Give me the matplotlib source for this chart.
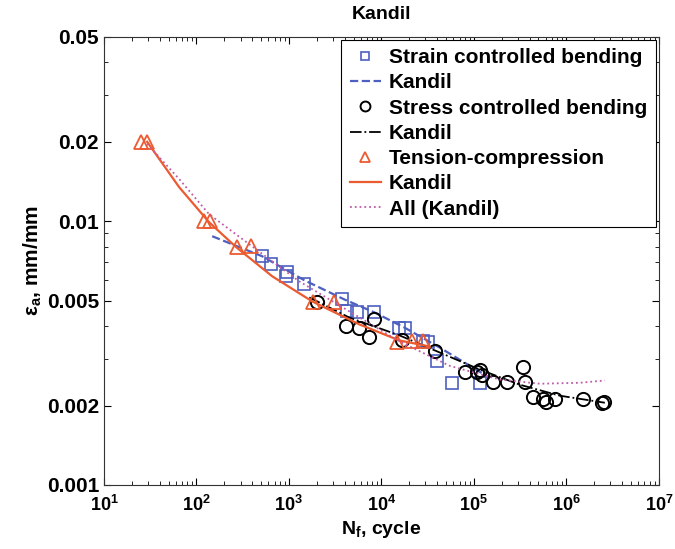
import matplotlib
matplotlib.use("Agg")
from matplotlib import pyplot as plt
from matplotlib.ticker import FixedLocator, FixedFormatter, LogLocator, NullFormatter

plt.rcParams['font.family'] = ['Liberation Sans', 'DejaVu Sans']
plt.rcParams['font.weight'] = 'bold'
plt.rcParams['axes.labelweight'] = 'bold'
plt.rcParams['mathtext.fontset'] = 'custom'
plt.rcParams['mathtext.rm'] = 'Liberation Sans:bold'
plt.rcParams['mathtext.it'] = 'Liberation Sans:bold'
plt.rcParams['mathtext.bf'] = 'Liberation Sans:bold'

# strain controlled bending (squares)
strain_n = [515, 644, 961, 938, 1469, 3790, 4300, 5510, 8410, 15700, 18200,
            27900, 31600, 39500, 57500, 115600]
strain_e = [0.00736, 0.00686, 0.0064, 0.00618, 0.00576, 0.00505, 0.00455,
            0.00451, 0.00451, 0.00395, 0.00395, 0.0035, 0.00347, 0.00294,
            0.00244, 0.00244]
strain_fit_n = [148, 515, 1469, 3980, 8410, 17800, 42600, 148000]
strain_fit_e = [0.00877, 0.00736, 0.00597, 0.00505, 0.00451, 0.00395, 0.00332, 0.00255]

# stress controlled bending (circles)
stress_n = [2030, 4190, 5800, 7430, 8410, 16900, 37600, 79400, 107000, 115600,
            121600, 160000, 226600, 338000, 355000, 433000, 556000, 599000,
            750000, 1510000, 2426000, 2550000]
stress_e = [0.00492, 0.00399, 0.00395, 0.00365, 0.00424, 0.00356, 0.00323,
            0.00267, 0.00267, 0.00274, 0.00262, 0.00246, 0.00246, 0.00281,
            0.00246, 0.00216, 0.00211, 0.00207, 0.00211, 0.00211, 0.00205, 0.00207]
stress_fit_n = [1663, 4510, 15700, 42600, 115600, 313000, 851000, 2610000]
stress_fit_e = [0.00514, 0.00431, 0.00369, 0.00318, 0.00274, 0.0024, 0.00218, 0.00205]

# tension-compression (triangles)
tc_n = [25.2, 29.2, 121, 141, 276, 392, 1836, 3100, 14900, 21200, 27900]
tc_e = [0.020, 0.020, 0.010, 0.010, 0.00797, 0.00804, 0.00492, 0.00496,
        0.00347, 0.0035, 0.0035]
tc_fit_n = [29.3, 65, 137, 269, 661, 1795, 5800, 15700, 33200]
tc_fit_e = [0.0200, 0.01346, 0.00991, 0.00797, 0.00618, 0.00496, 0.00406, 0.00353, 0.00335]

# all data fit
all_fit_n = [29.3, 65, 137, 372, 1297, 4510, 15700, 54700, 190600, 517000,
             1400000, 2610000]
all_fit_e = [0.01963, 0.01445, 0.01063, 0.00818, 0.00591, 0.00455, 0.0035,
             0.00283, 0.00251, 0.00242, 0.00244, 0.00249]

blue = "#4d5fbf"
red = "#ec5a30"
pink = "#c05aa8"

fig = plt.figure(figsize=(6.75, 5.49), dpi=100)
ax = fig.add_axes([0.154, 0.1166, 0.822, 0.8164])

ax.plot(strain_n, strain_e, ls="none", marker="s", ms=8.5, mfc="none",
        mec=blue, mew=1.2, label="Strain controlled bending")
ax.plot(strain_fit_n, strain_fit_e, ls="--", color=blue, lw=1.6, label="Kandil")
ax.plot(stress_n, stress_e, ls="none", marker="o", ms=9.5, mfc="none",
        mec="black", mew=1.4, label="Stress controlled bending")
ax.plot(stress_fit_n, stress_fit_e, ls="-.", color="black", lw=1.3, label="Kandil")
ax.plot(tc_n, tc_e, ls="none", marker="^", ms=10, mfc="none",
        mec=red, mew=1.3, label="Tension-compression")
ax.plot(tc_fit_n, tc_fit_e, ls="-", color=red, lw=1.6, label="Kandil")
ax.plot(all_fit_n, all_fit_e, ls=":", color=pink, lw=1.3, label="All (Kandil)")

ax.set_xscale("log")
ax.set_yscale("log")
ax.set_xlim(10, 1e7)
ax.set_ylim(0.001, 0.05)

yt = [0.001, 0.002, 0.005, 0.01, 0.02, 0.05]
ax.yaxis.set_major_locator(FixedLocator(yt))
ax.yaxis.set_major_formatter(FixedFormatter(["0.001", "0.002", "0.005", "0.01", "0.02", "0.05"]))
ax.yaxis.set_minor_locator(LogLocator(base=10, subs=(3, 4, 6, 7, 8, 9)))
ax.yaxis.set_minor_formatter(NullFormatter())
ax.xaxis.set_minor_locator(LogLocator(base=10, subs=range(2, 10)))
ax.xaxis.set_minor_formatter(NullFormatter())

ax.tick_params(which="both", direction="in", top=True, right=True)
ax.tick_params(axis="y", labelsize=15)
ax.tick_params(axis="x", labelsize=13, pad=7)
ax.tick_params(which="major", length=5)
ax.tick_params(which="minor", length=3)
for s in ax.spines.values():
    s.set_linewidth(0.8)
    s.set_color("#333333")

ax.set_title("Kandil", fontsize=14, fontweight="bold", pad=13)
ax.set_xlabel("N$_{\\mathregular{f}}$, cycle", fontsize=14, labelpad=3)
ax.set_ylabel("ε$_{\\mathregular{a}}$, mm/mm", fontsize=15, labelpad=2)

leg = ax.legend(loc="upper right", fontsize=15, handlelength=1.5, handletextpad=0.4,
                borderpad=0.4, labelspacing=0.3, fancybox=False, framealpha=1,
                edgecolor="black", borderaxespad=0.15, markerscale=0.75)
leg.get_frame().set_linewidth(0.8)

fig.savefig("out.png", dpi=100)
